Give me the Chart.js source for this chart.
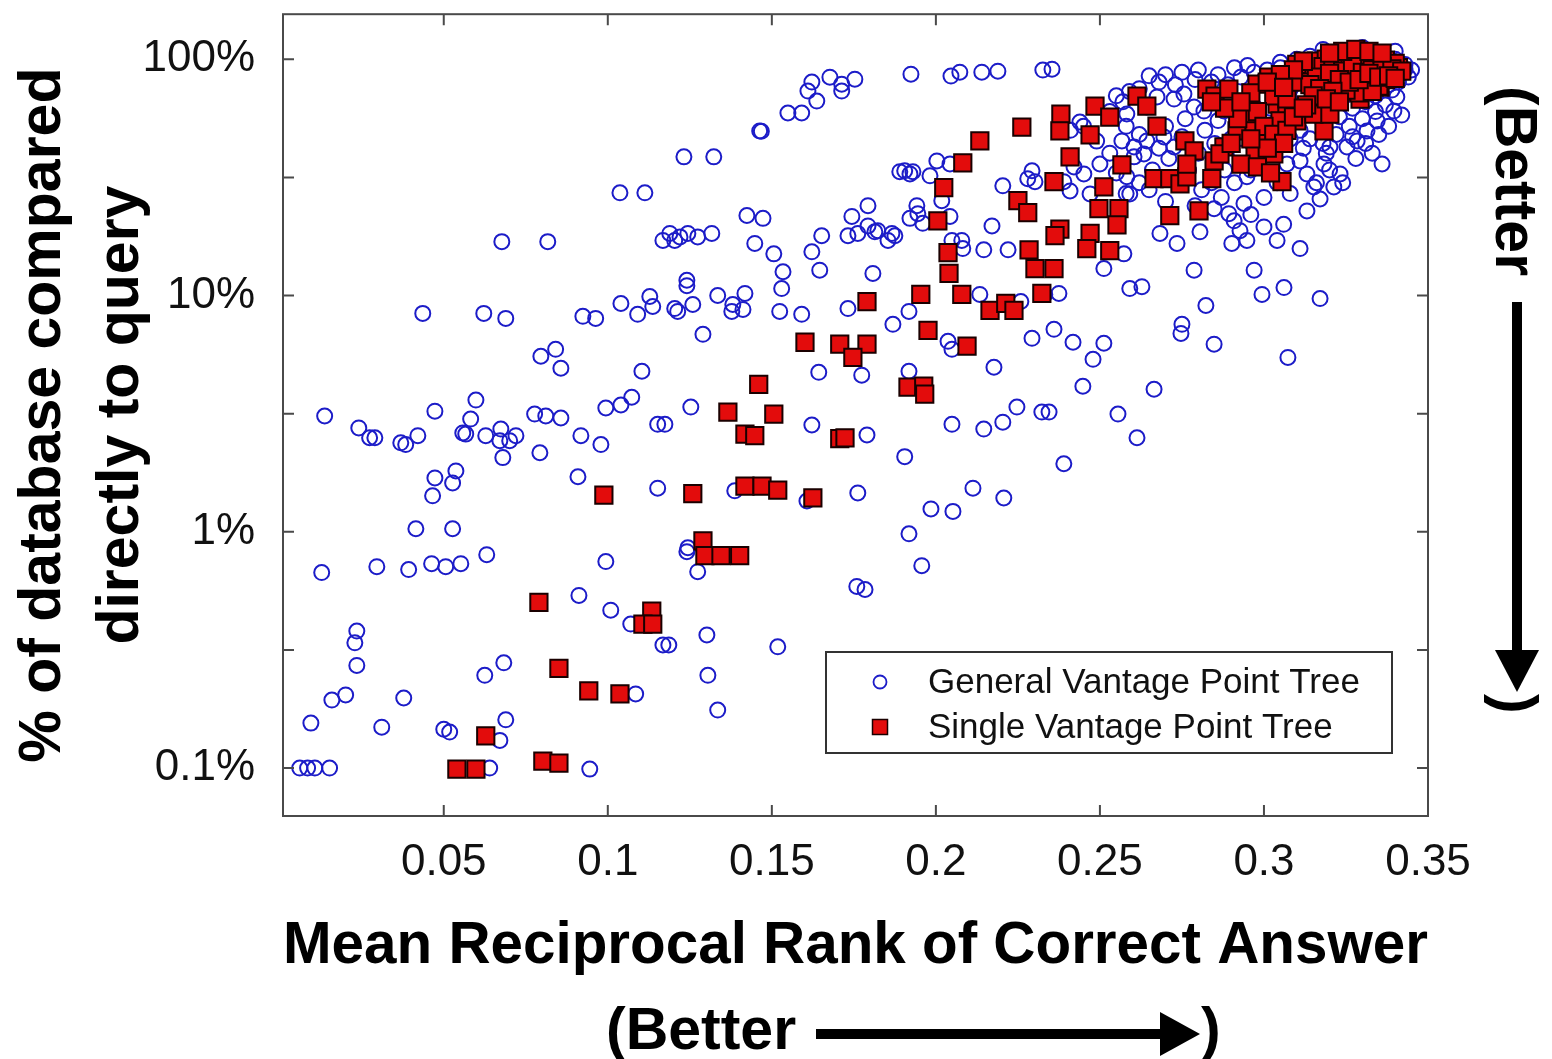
<!DOCTYPE html>
<html><head><meta charset="utf-8">
<script src="https://cdn.jsdelivr.net/npm/chart.js@4.4.1/dist/chart.umd.min.js"></script>
<style>html,body{margin:0;padding:0;background:#fff;}canvas{display:block;}</style>
</head><body>
<canvas id="c" width="1552" height="1059"></canvas>
<script>
const seriesNames = ['General Vantage Point Tree', 'Single Vantage Point Tree'];

// [MRR, % of database compared]
const generalVPT = [
 [0.1037,27.2],[0.1113,27.2],[0.0677,16.9],[0.0817,16.9],[0.1168,17.1],
 [0.1924,86.4],[0.2046,84.8],[0.2073,88.1],[0.2140,88.1],[0.2189,89.0],[0.2326,89.9],
 [0.1622,80.0],[0.1677,83.9],[0.1713,78.4],[0.1753,82.3],[0.1610,73.3],[0.1713,73.3],[0.1637,66.5],
 [0.1549,59.2],[0.1591,59.2],[0.1463,49.7],[0.1468,49.5],
 [0.1232,38.6],[0.1323,38.6],
 [0.1890,33.4],[0.1905,33.7],[0.1921,32.7],[0.1930,33.4],[0.1982,32.1],[0.2003,37.1],[0.2043,36.0],
 [0.2204,29.1],[0.2293,33.7],[0.2280,31.2],[0.2302,30.3],
 [0.1793,24.0],[0.1942,24.0],[0.1945,22.2],[0.1921,21.2],[0.1960,20.2],[0.2018,25.2],[0.2043,21.6],[0.2171,19.7],
 [0.1424,21.8],[0.1473,21.2],[0.1744,21.6],[0.1793,19.7],[0.1823,18.8],[0.1866,18.3],[0.1732,17.9],[0.1762,18.3],[0.1814,18.6],[0.1854,17.1],[0.1875,17.9],
 [0.1189,18.3],[0.1220,17.7],[0.1244,18.3],[0.1274,17.7],[0.1317,18.3],[0.1204,17.1],
 [0.1448,16.6],[0.1506,15.0],[0.1622,15.3],[0.1652,17.9],[0.1646,12.8],[0.1534,12.6],[0.1808,12.4],[0.1241,11.6],
 [0.2049,17.1],[0.2079,17.1],[0.2082,15.8],[0.2146,15.6],[0.2220,15.6],
 [0.2354,90.7],[0.2439,54.2],[0.2582,58.6],[0.2643,62.7],[0.2674,69.2],[0.2726,67.8],[0.2756,71.2],[0.2787,62.7],[0.2817,60.3],[0.2878,60.3],[0.2912,60.3],[0.2948,64.6],
 [0.2567,45.1],[0.2604,42.5],[0.2643,45.1],[0.2695,46.9],[0.2726,42.5],[0.2604,38.6],[0.2634,39.7],
 [0.2421,35.0],[0.2451,32.7],[0.2390,30.3],[0.2409,27.7],[0.2470,26.9],[0.2582,31.8],[0.2591,26.9],
 [0.2573,15.0],[0.2512,13.0],[0.2683,18.3],[0.2735,16.6],[0.2805,18.6],[0.2787,12.8],
 [0.2848,23.3],[0.2893,22.2],[0.2909,20.7],[0.2939,24.5],[0.2927,18.8],[0.2902,16.6],[0.2948,17.1],[0.3000,19.5],[0.3040,17.1],[0.2970,12.8],[0.3110,15.8],
 [0.2948,31.8],[0.3070,36.0],[0.3110,37.1],[0.3131,32.7],[0.3152,28.8],[0.3171,25.6],[0.3131,22.8],[0.3183,36.0],[0.3232,32.7],[0.3213,28.8],
 [0.3201,42.5],[0.3253,42.5],[0.3284,45.1],[0.3314,49.7],[0.3345,54.8],[0.3396,60.3],[0.3405,69.2],[0.3415,86.4],[0.3430,90.7],[0.3396,98.1],
 [0.262,75],[0.268,80],[0.273,78],[0.279,82],[0.284,80],[0.289,78],[0.293,84],[0.297,88],[0.301,90],[0.305,92],[0.309,88],[0.300,70],[0.296,65],[0.302,62],[0.306,56],[0.311,50],[0.314,46],[0.318,44],[0.322,48],[0.326,52],[0.330,56],[0.334,60],[0.337,64],[0.341,80],[0.344,84],[0.328,38],[0.324,30],[0.312,42],[0.308,46],[0.303,44],[0.299,38],[0.296,34],[0.291,30],[0.287,26],[0.281,28],[0.277,34],[0.271,38],[0.266,34],[0.262,30],[0.258,27],[0.253,40],[0.249,45],[0.245,52],[0.241,50],[0.253,60],[0.257,66],[0.282,50],[0.286,55],[0.276,56],[0.270,52],[0.310,100],[0.314,103],[0.305,97],[0.336,104],[0.340,100],[0.343,95],[0.345,90],[0.338,78],[0.334,70],[0.339,74],[0.331,66],[0.327,62],
 [0.255,70],[0.259,73],[0.265,85],[0.270,86],[0.275,88],[0.280,90],[0.286,86],[0.291,92],[0.295,94],[0.300,82],[0.304,78],[0.308,75],[0.312,70],[0.316,66],[0.320,62],[0.313,60],[0.318,54],[0.323,57],[0.327,47],[0.331,44],[0.335,48],[0.338,52],[0.342,58],[0.333,40],[0.336,36],
 [0.290,46],[0.294,50],[0.298,54],[0.285,44],[0.280,40],[0.275,47],[0.268,42],[0.262,48],[0.258,52],[0.250,36],[0.255,33],[0.265,28],[0.270,25],[0.279,24],[0.284,30],[0.288,34],[0.293,40],[0.304,30],[0.308,27],[0.316,30],[0.320,34],[0.300,26],[0.296,22],[0.306,20],[0.319,40],
 [0.318,110],[0.330,112],[0.340,108],
 [0.0436,8.4],[0.0622,8.4],[0.0689,8.0],[0.0924,8.16],[0.0963,8.0],[0.1040,9.25],[0.1091,8.32],[0.1128,9.9],[0.1137,8.98],
 [0.0796,5.53],[0.0841,5.92],[0.0857,4.92],[0.1104,4.78],
 [0.0137,3.09],[0.0241,2.75],[0.0274,2.5],[0.0290,2.5],[0.0369,2.38],[0.0384,2.34],[0.0421,2.55],[0.0473,3.24],[0.0598,3.61],[0.0582,3.0],[0.0558,2.62],[0.0567,2.59],[0.0628,2.55],[0.0674,2.72],[0.0671,2.43],[0.0701,2.43],[0.0720,2.55],[0.0680,2.06],[0.0793,2.16],
 [0.0777,3.15],[0.0811,3.09],[0.0857,3.03],[0.0918,2.55],[0.0979,2.34],[0.0994,3.34],[0.1040,3.44],[0.1073,3.71],[0.1152,2.85],
 [0.0473,1.69],[0.0466,1.42],[0.0537,1.81],[0.0527,1.61],[0.0909,1.71],[0.1152,1.53],[0.0415,1.03],[0.0527,1.03],
 [0.1241,11.0],[0.1204,8.8],[0.1213,8.56],[0.1259,9.16],[0.1335,10.0],[0.1381,9.16],[0.1418,10.2],[0.1412,8.73],[0.1378,8.56],[0.1530,10.7],[0.1524,8.56],[0.1591,8.32],[0.1290,6.85],
 [0.1732,8.8],[0.1869,7.55],[0.1918,8.56],[0.2037,6.4],[0.2049,5.92],[0.2134,10.1],[0.2259,9.43],[0.2293,6.59],[0.2332,10.1],
 [0.1643,4.73],[0.1774,4.6],[0.1918,4.78],[0.2177,4.97],[0.1253,3.37],[0.1174,2.85],[0.1622,2.83],[0.1790,2.57],[0.2049,2.85],[0.2146,2.72],[0.2204,2.91],[0.2247,3.37],[0.2323,3.21],[0.1905,2.08],
 [0.1387,1.49],[0.1607,1.35],[0.1762,1.46],[0.2113,1.53],[0.2207,1.39],[0.1985,1.25],[0.2052,1.22],[0.1918,0.98],[0.1244,0.856],
 [0.2375,10.2],[0.2591,10.7],[0.2628,10.9],[0.2823,9.07],[0.2750,7.55],[0.2747,6.91],[0.2848,6.22],[0.2994,10.1],[0.3061,10.8],[0.3171,9.7],[0.3073,5.47],
 [0.2360,7.19],[0.2418,6.34],[0.2512,6.28],[0.2479,5.37],[0.2448,4.13],[0.2665,4.01],[0.2345,3.21],[0.2555,3.15],[0.2613,2.5],[0.2390,1.94],
 [0.0128,0.672],[0.0296,0.712],[0.0393,0.692],[0.0463,0.733],[0.0506,0.712],[0.0552,0.733],[0.0631,0.8],[0.0994,0.748],[0.0912,0.538],[0.1009,0.466],[0.1070,0.407],[0.1168,0.332],
 [0.0235,0.38],[0.0229,0.339],[0.0235,0.272],[0.0625,0.247],[0.0683,0.279],[0.0159,0.194],[0.0201,0.204],[0.0378,0.198],[0.0095,0.155],[0.0311,0.149],[0.0500,0.146],[0.0518,0.142],[0.0689,0.16],[0.0671,0.131],[0.1085,0.206],
 [0.0061,0.1],[0.0085,0.1],[0.0107,0.1],[0.0152,0.1],[0.0640,0.1],[0.0945,0.099],
 [0.1241,0.824],[0.1274,0.678],[0.1957,0.719],[0.1759,0.587],[0.1784,0.57],[0.1186,0.332],[0.1302,0.366],[0.1518,0.326],[0.1305,0.247],[0.1335,0.176]
];

const singleVPT = [
 [0.2262,51.6],[0.2134,45.1],[0.2082,36.4],[0.2024,28.6],[0.2250,25.2],[0.2280,22.4],[0.2006,20.7],[0.2037,15.2],[0.2040,12.4],[0.2284,15.6],[0.2302,13.0],
 [0.2381,58.6],[0.2378,49.7],[0.2485,63.3],[0.2530,56.9],[0.2470,47.8],[0.2409,38.6],[0.2360,30.3],[0.2567,35.7],[0.2512,28.8],[0.2497,23.3],[0.2558,23.3],[0.2552,19.9],[0.2378,19.1],[0.2363,17.9],[0.2470,18.3],[0.2460,15.8],[0.2530,15.5],[0.2360,13.0],
 [0.2613,69.8],[0.2643,63.3],[0.2674,52.1],[0.2665,31.2],[0.2713,31.2],[0.2744,29.7],[0.2765,31.8],[0.2713,21.8],[0.2802,22.8],[0.2759,45.1],[0.2787,40.9],[0.2765,36.0],[0.2848,37.1],
 [0.2826,74.7],[0.2851,69.8],[0.2893,74.7],[0.2841,31.2],[0.2878,42.5],[0.2866,39.7],[0.2918,49.7],[0.2957,58.6],[0.2979,78.4],[0.3015,83.9],[0.2970,49.7],[0.2979,45.1],[0.2973,39.7],[0.3030,39.7],[0.3055,30.3],[0.3183,49.7],
 [0.3040,64.6],[0.3070,60.3],[0.3100,54.8],[0.3152,58.6],[0.3201,58.6],[0.3049,54.8],[0.3100,86.4],[0.3140,83.9],[0.3183,80.8],[0.3223,78.4],[0.3262,73.3],[0.3293,67.8],[0.3354,76.2],[0.3384,83.9],
 [0.303,70],[0.307,68],[0.296,72],
 [0.317,95],[0.320,98],[0.323,100],[0.326,97],[0.329,99],[0.332,101],[0.335,98],[0.338,95],[0.318,88],[0.321,91],[0.324,93],[0.327,90],[0.330,92],[0.333,94],[0.336,90],[0.339,88],[0.319,82],[0.322,85],[0.325,84],[0.328,86],[0.331,83],[0.334,85],[0.337,82],[0.320,77],[0.324,79],[0.328,78],[0.332,80],[0.335,77],[0.326,103],[0.330,104],[0.322,102],[0.334,102],[0.315,92],[0.313,87],[0.311,80],[0.341,92],[0.329,72],[0.325,74],[0.333,73],
 [0.316,98],[0.319,100],[0.322,96],[0.325,99],[0.328,95],[0.331,97],[0.334,96],[0.337,99],[0.340,96],[0.318,93],[0.321,95],[0.324,89],[0.327,94],[0.330,88],[0.333,90],[0.336,93],[0.339,91],[0.342,89],[0.316,84],[0.320,87],[0.323,82],[0.326,80],[0.329,82],[0.332,87],[0.335,84],[0.338,85],[0.314,78],[0.317,75],[0.321,73],[0.340,83],[0.310,95],[0.312,98],[0.309,90],[0.305,86],[0.301,80],[0.306,76],[0.315,70],[0.319,68],[0.313,64],[0.323,66],[0.298,60],[0.292,56],[0.288,62],[0.284,66],[0.293,66],
 [0.300,52],[0.303,48],[0.307,50],[0.306,44],[0.301,42],[0.296,46],[0.309,57],[0.312,62],[0.290,44],[0.293,36],[0.298,35],[0.302,33],
 [0.324,108],[0.328,110],[0.332,108],[0.320,106],[0.336,106],
 [0.0988,1.43],
 [0.1790,9.43],[0.1954,10.1],[0.2079,10.1],[0.2165,8.64],[0.2213,9.25],[0.2238,8.64],[0.2323,10.2],[0.1976,7.12],[0.2095,6.1],[0.1601,6.34],[0.1707,6.22],[0.1790,6.22],[0.1747,5.47],[0.1915,4.09],[0.1963,4.13],[0.1966,3.82],[0.1460,4.21],[0.1366,3.21],[0.1506,3.15],[0.1418,2.59],[0.1448,2.55],[0.1707,2.48],[0.1723,2.5],[0.1259,1.45],[0.1418,1.56],[0.1470,1.56],[0.1518,1.5],[0.1625,1.39],[0.1290,0.916],
 [0.0790,0.503],[0.1134,0.462],[0.1107,0.407],[0.1137,0.407],[0.0851,0.264],[0.0942,0.212],[0.1037,0.206],[0.0628,0.137],[0.0540,0.099],[0.0598,0.099],[0.0802,0.107],[0.0851,0.105],
 [0.1296,0.793],[0.1345,0.793],[0.1402,0.793]
];

const xTickValues = [0.05, 0.1, 0.15, 0.2, 0.25, 0.3, 0.35];
const xTickLabels = ['0.05', '0.1', '0.15', '0.2', '0.25', '0.3', '0.35'];
const yTickValues = [0.1, 0.316, 1, 3.16, 10, 31.6, 100];
const yTickLabels = ['0.1%', '', '1%', '', '10%', '', '100%'];
const xTitle = 'Mean Reciprocal Rank of Correct Answer';
const yTitle = ['% of database compared', 'directly to query'];
const betterOpen = '(Better';
const betterClose = ')';

const FONT = "'Liberation Sans', Arial, Helvetica, sans-serif";
const BLUE = '#1c1cc8';
const RED = '#e30c0c';

function labelFor(values, labels, v) {
  const i = values.findIndex(t => Math.abs(t - v) < 1e-9);
  return i >= 0 ? labels[i] : '';
}

const framePlugin = {
  id: 'frame',
  afterDatasetsDraw(chart) {
    const {ctx, chartArea: a, scales: {x, y}} = chart;
    ctx.save();
    ctx.strokeStyle = '#4a4a4a';
    ctx.lineWidth = 2;
    ctx.strokeRect(a.left, a.top, a.right - a.left, a.bottom - a.top);
    const tl = 11;
    ctx.beginPath();
    x.ticks.forEach(t => {
      const px = x.getPixelForValue(t.value);
      if (px > a.left + 2 && px < a.right - 2) {
        ctx.moveTo(px, a.bottom); ctx.lineTo(px, a.bottom - tl);
        ctx.moveTo(px, a.top); ctx.lineTo(px, a.top + tl);
      }
    });
    y.ticks.forEach(t => {
      const py = y.getPixelForValue(t.value);
      ctx.moveTo(a.left, py); ctx.lineTo(a.left + tl, py);
      ctx.moveTo(a.right, py); ctx.lineTo(a.right - tl, py);
    });
    ctx.stroke();
    ctx.restore();
  },
  afterDraw(chart) {
    const {ctx, chartArea: a} = chart;
    ctx.save();
    // legend box
    const lx = a.left + 543, ly = 652, lw = 566, lh = 101;
    ctx.fillStyle = '#fff';
    ctx.fillRect(lx, ly, lw, lh);
    ctx.strokeStyle = '#333';
    ctx.lineWidth = 2;
    ctx.strokeRect(lx, ly, lw, lh);
    const ds = chart.data.datasets;
    const rows = [ly + 30, ly + 75];
    ds.forEach((d, i) => {
      const cy = rows[i], cx = lx + 54;
      if (d.pointStyle === 'circle') {
        ctx.beginPath();
        ctx.arc(cx, cy, 6.5, 0, Math.PI * 2);
        ctx.strokeStyle = d.pointBorderColor;
        ctx.lineWidth = 1.8;
        ctx.stroke();
      } else {
        ctx.fillStyle = d.pointBackgroundColor;
        ctx.fillRect(cx - 7.5, cy - 7.5, 15, 15);
        ctx.strokeStyle = d.pointBorderColor;
        ctx.lineWidth = 1.5;
        ctx.strokeRect(cx - 7.5, cy - 7.5, 15, 15);
      }
      ctx.fillStyle = '#111';
      ctx.font = '35px ' + FONT;
      ctx.textBaseline = 'middle';
      ctx.textAlign = 'left';
      ctx.fillText(d.label, lx + 102, cy + 1);
    });

    // bottom "(Better ---->)"
    ctx.fillStyle = '#000';
    ctx.font = 'bold 59px ' + FONT;
    ctx.textBaseline = 'alphabetic';
    ctx.textAlign = 'left';
    ctx.fillText(betterOpen, 606, 1049);
    ctx.fillRect(816, 1029, 350, 10);
    ctx.beginPath();
    ctx.moveTo(1160, 1012); ctx.lineTo(1200, 1034); ctx.lineTo(1160, 1056); ctx.closePath();
    ctx.fill();
    ctx.fillText(betterClose, 1201, 1049);

    // right side rotated "(Better ---->)"
    ctx.save();
    ctx.translate(1496, 86);
    ctx.rotate(Math.PI / 2);
    ctx.fillText(betterOpen, 0, 0);
    ctx.restore();
    ctx.fillRect(1512, 302, 10, 352);
    ctx.beginPath();
    ctx.moveTo(1495, 650); ctx.lineTo(1517, 692); ctx.lineTo(1539, 650); ctx.closePath();
    ctx.fill();
    ctx.save();
    ctx.translate(1496, 694);
    ctx.rotate(Math.PI / 2);
    ctx.fillText(betterClose, 0, 0);
    ctx.restore();
    ctx.restore();
  }
};

const toPts = arr => arr.map(p => ({x: p[0], y: p[1]}));

new Chart(document.getElementById('c').getContext('2d'), {
  type: 'scatter',
  data: {
    datasets: [
      {label: seriesNames[0], data: toPts(generalVPT), pointStyle: 'circle', pointRadius: 7.5,
       pointBorderWidth: 2, pointBorderColor: BLUE, pointBackgroundColor: 'rgba(0,0,0,0)', order: 2},
      {label: seriesNames[1], data: toPts(singleVPT), pointStyle: 'rect', pointRadius: 12.2,
       pointBorderWidth: 2, pointBorderColor: '#1a0000', pointBackgroundColor: RED, order: 1}
    ]
  },
  options: {
    responsive: false,
    animation: false,
    events: [],
    layout: {padding: {left: 0, top: 12, right: 124, bottom: 0}},
    plugins: {legend: {display: false}, tooltip: {enabled: false}},
    scales: {
      x: {
        type: 'linear', min: 0.001, max: 0.35,
        afterBuildTicks: s => { s.ticks = xTickValues.map(v => ({value: v})); },
        afterFit: s => { s.height = 243; s.paddingLeft = 0; s.paddingRight = 0; },
        grid: {display: false, drawTicks: false},
        border: {display: false},
        ticks: {padding: 20, color: '#111', maxRotation: 0, autoSkip: false,
                font: {family: FONT, size: 44},
                callback: v => labelFor(xTickValues, xTickLabels, v)},
        title: {display: true, text: xTitle, color: '#000',
                font: {family: FONT, size: 59, weight: 'bold', lineHeight: 1.2},
                padding: {top: 0, bottom: 77}}
      },
      y: {
        type: 'logarithmic', min: 0.0627, max: 155,
        afterBuildTicks: s => { s.ticks = yTickValues.map(v => ({value: v})); },
        afterFit: s => { s.width = 283; s.paddingTop = 0; s.paddingBottom = 0; },
        grid: {display: false, drawTicks: false},
        border: {display: false},
        ticks: {padding: 28, color: '#111', autoSkip: false,
                font: {family: FONT, size: 44},
                callback: v => labelFor(yTickValues, yTickLabels, v)},
        title: {display: true, text: yTitle, color: '#000',
                font: {family: FONT, size: 59, weight: 'bold', lineHeight: 1.32},
                padding: {top: 5, bottom: 0}}
      }
    }
  },
  plugins: [framePlugin]
});
</script>
</body></html>
